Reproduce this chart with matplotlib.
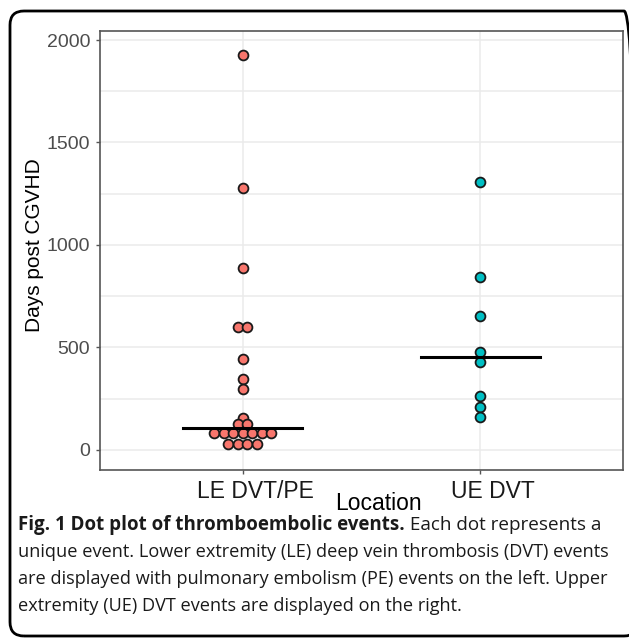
import numpy as np
import matplotlib
matplotlib.use('Agg')
import matplotlib.pyplot as plt
import matplotlib.transforms as mtrans
from matplotlib.patches import FancyBboxPatch
from collections import Counter

# --------------- data ----------------------------------------------
groups = ['LE DVT/PE', 'UE DVT']
le_days = [1925, 1280, 890, 600, 600, 445, 345, 295, 155, 127, 127,
           83, 83, 83, 83, 83, 83, 83, 29, 29, 29, 29]
ue_days = [1305, 844, 652, 478, 429, 263, 210, 161]
colors = ['#F8766D', '#00BFC4']
yticks = [0, 500, 1000, 1500, 2000]
caption_bold = 'Fig. 1 Dot plot of thromboembolic events.'
caption_lines = [' Each dot represents a',
                 'unique event. Lower extremity (LE) deep vein thrombosis (DVT) events',
                 'are displayed with pulmonary embolism (PE) events on the left. Upper',
                 'extremity (UE) DVT events are displayed on the right.']

W, H = 629, 638
fig = plt.figure(figsize=(W / 100, H / 100), dpi=100)
ax = fig.add_axes([100 / W, 1 - 470 / H, 523 / W, 439 / H])

# outer rounded frame: only the left side, the top and the start of the
# top-right corner are inside the picture
frame = FancyBboxPatch((10, 2), 628, 625, boxstyle='round,pad=0,rounding_size=14',
                       transform=None, fill=False, lw=2.0, ec='black', clip_on=False)
fig.patches.append(frame)

# grid
for y in np.arange(0, 2001, 250):
    ax.axhline(y, color='#EBEBEB', lw=1.1, zorder=0)
for x in [1, 2]:
    ax.axvline(x, color='#EBEBEB', lw=1.1, zorder=0)

# dot plot: equal values are stacked side by side, centred
step = 0.04
for i, (vals, c) in enumerate(zip([le_days, ue_days], colors)):
    xs, ys = [], []
    for v, n in Counter(vals).items():
        offs = (np.arange(n) - (n - 1) / 2) * step
        xs.extend(i + 1 + offs)
        ys.extend([v] * n)
    ax.scatter(xs, ys, s=50, c=c, edgecolors='#1a1a1a', linewidths=1.3, zorder=3)
    med = np.median(vals)
    ax.plot([i + 1 - 0.25, i + 1 + 0.25], [med, med], color='black', lw=2.2, zorder=4)

ax.set_xlim(0.4, 2.6)
ax.set_ylim(-98, 2044)
ax.set_xticks([1, 2])
ax.set_xticklabels([])
# group labels sit a little right of their ticks in the source
lab_tr = mtrans.blended_transform_factory(ax.transData, ax.transAxes) + \
    mtrans.ScaledTranslation(13 / 100, -21 / 100, fig.dpi_scale_trans)
for i, g in enumerate(groups):
    ax.text(i + 1, 0, g, transform=lab_tr, fontsize=16.5, family='Liberation Sans',
            color='#1a1a1a', ha='center', va='center', clip_on=False)
ax.set_yticks(yticks)
ax.set_yticklabels([str(t) for t in yticks], fontsize=14, family='Liberation Sans', color='#4D4D4D')
ax.tick_params(axis='both', length=3, color='#555555', width=1)
ax.tick_params(axis='y', pad=4)
for s in ax.spines.values():
    s.set_color('#555555')
    s.set_linewidth(1.2)

fig.text(378 / W, 1 - 504 / H, 'Location', fontsize=16.5, family='Liberation Sans',
         ha='center', va='center')
fig.text(35 / W, 1 - 245 / H, 'Days post CGVHD', fontsize=15, family='Liberation Sans',
         rotation=90, ha='center', va='center')

# caption
cap_font = dict(family='Open Sans', color='#1a1a1a', va='center')
line_y = [525, 552, 579, 606]
tb = fig.text(18 / W, 1 - line_y[0] / H, caption_bold, fontweight='bold',
              fontsize=13.5, **cap_font)
r = fig.canvas.get_renderer()
bb = tb.get_window_extent(renderer=r)
fig.text(bb.x1 / W, 1 - line_y[0] / H, caption_lines[0], fontsize=13.6, **cap_font)
for ln, y in zip(caption_lines[1:], line_y[1:]):
    fig.text(18 / W, 1 - y / H, ln, fontsize=13.1, **cap_font)

fig.savefig('out.png', dpi=100)
